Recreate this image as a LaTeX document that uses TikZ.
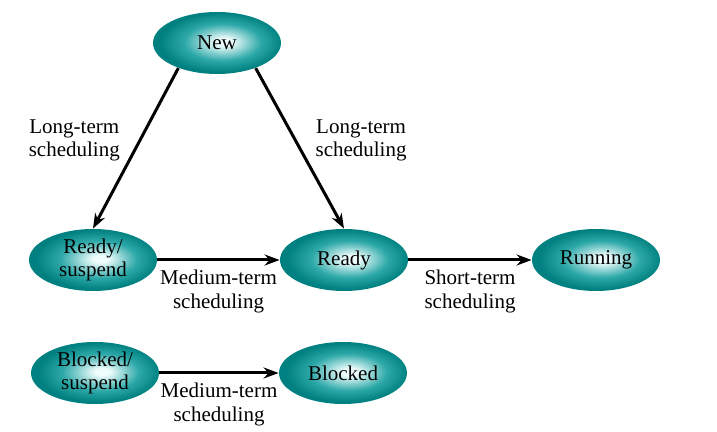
\documentclass[tikz,border=0pt]{standalone}
\usepackage{fontspec}
\setmainfont{Liberation Serif}
\usetikzlibrary{arrows.meta,shapes.geometric}
\definecolor{statedark}{RGB}{0,128,128}
\definecolor{statemid}{RGB}{45,168,168}
\definecolor{statelight}{RGB}{238,252,252}
\pgfdeclareradialshading{stateshade}{\pgfpoint{3bp}{1bp}}{color(0bp)=(statelight); color(3bp)=(statelight); color(15bp)=(statemid); color(24bp)=(statedark); color(50bp)=(statedark)}
\begin{document}
\begin{tikzpicture}[x=0.5pt, y=-0.5pt,
          state/.style={ellipse, shading=stateshade, minimum width=64pt, minimum height=31pt,
                        inner sep=0pt, align=center, font=\fontsize{10.5}{11.5}\selectfont},
          sched/.style={align=center, font=\fontsize{10.5}{11.8}\selectfont},
          trans/.style={-{Stealth[length=7.5pt, width=5.5pt]}, line width=1.5pt}]
          \useasboundingbox (0,0) rectangle (717,432);
          % states
          \node[state] (new) at (217,43) {New};
          \node[state] (rsusp) at (93,260) {Ready/\\suspend};
          \node[state] (ready) at (344,260) {Ready};
          \node[state] (running) at (596,260) {Running};
          \node[state] (bsusp) at (95,373) {Blocked/\\suspend};
          \node[state] (blocked) at (343,373) {Blocked};
          % transitions
          \draw[trans] (new.213) -- (rsusp.north)
              node[sched, pos=0.45, left=6pt] (lt1) {Long-term\\scheduling};
          \draw[trans] (new.327) -- (ready.north)
              node[sched, pos=0.45, right=6pt] (lt2) {Long-term\\scheduling};
          \draw[trans] (rsusp) -- (ready)
              node[sched, midway, below=1pt] (mt1) {Medium-term\\scheduling};
          \draw[trans] (ready) -- (running)
              node[sched, midway, below=1pt] (st) {Short-term\\scheduling};
          \draw[trans] (bsusp) -- (blocked)
              node[sched, midway, below=1pt] (mt2) {Medium-term\\scheduling};
\end{tikzpicture}
\end{document}
